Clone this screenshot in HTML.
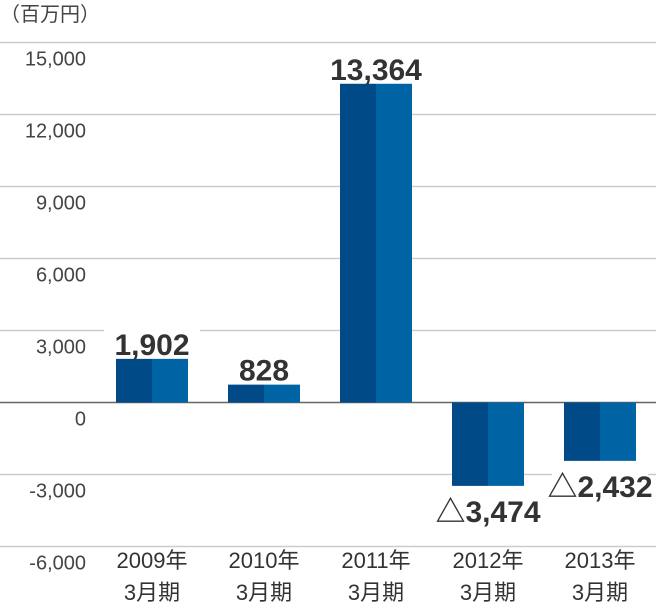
<!DOCTYPE html>
<html><head><meta charset="utf-8"><style>
body{margin:0;background:#fff;}
svg text{font-family:"Liberation Sans","Noto Sans CJK JP",sans-serif;}
</style></head><body>
<svg id="chart" width="656" height="608" viewBox="0 0 656 608">
<text x="0" y="21" font-size="20" fill="#444">（百万円）</text>
<g id="grid"></g><g id="bars"></g><g id="labels"></g>
</svg>
<script>
const categories=["2009年","2010年","2011年","2012年","2013年"];
const values=[1902,828,13364,-3474,-2432];
const valueLabels=["1,902","828","13,364","△3,474","△2,432"];
const ticks=[15000,12000,9000,6000,3000,0,-3000,-6000];
const tickLabels=["15,000","12,000","9,000","6,000","3,000","0","-3,000","-6,000"];
const NS="http://www.w3.org/2000/svg";
const y0=402.5, pxPer=72/3000;
function y(v){return y0-v*pxPer;}
function x(i){return 116+i*112;}
function mk(tag,attrs,parent){const e=document.createElementNS(NS,tag);for(const k in attrs)e.setAttribute(k,attrs[k]);parent.appendChild(e);return e;}
const grid=document.getElementById('grid'),bars=document.getElementById('bars'),labels=document.getElementById('labels');
ticks.forEach((t,i)=>{
  const l=mk('line',{x1:0,x2:656,y1:y(t),y2:y(t),stroke:t===0?'#666':'#ccc','stroke-width':t===0?1.5:1.5},grid);
  
  
  const tx=mk('text',{x:86,y:y(t)+23,'text-anchor':'end','font-size':20,fill:'#444'},grid);
  tx.textContent=tickLabels[i];
  
  
});
values.forEach((v,i)=>{
  const top=Math.min(y(v),y0), h=Math.abs(y(v)-y0);
  const a=mk('rect',{x:x(i),y:top,width:36,height:h,fill:'#004b87'},bars);
  
  
  const b=mk('rect',{x:x(i)+36,y:top,width:36,height:h,fill:'#0063a3'},bars);
  
  
  const cx=x(i)+36;
  const ly=v>=0?y(v)-14:y(v)+24;
  const bg=mk('rect',{x:cx-48,y:ly-18,width:96,height:34,fill:'#fff'},labels);
  
  
  const t=mk('text',{x:cx,y:ly+12,'text-anchor':'middle','font-size':30,'font-weight':'bold',fill:'#333'},labels);
  t.textContent=valueLabels[i];
  
  
  const c1=mk('text',{x:cx,y:568,'text-anchor':'middle','font-size':22,fill:'#333'},labels);
  c1.textContent=categories[i];
  
  
  const c2=mk('text',{x:cx,y:600,'text-anchor':'middle','font-size':22,fill:'#333'},labels);
  c2.textContent='3月期';
  
  
});
</script>
</body></html>
